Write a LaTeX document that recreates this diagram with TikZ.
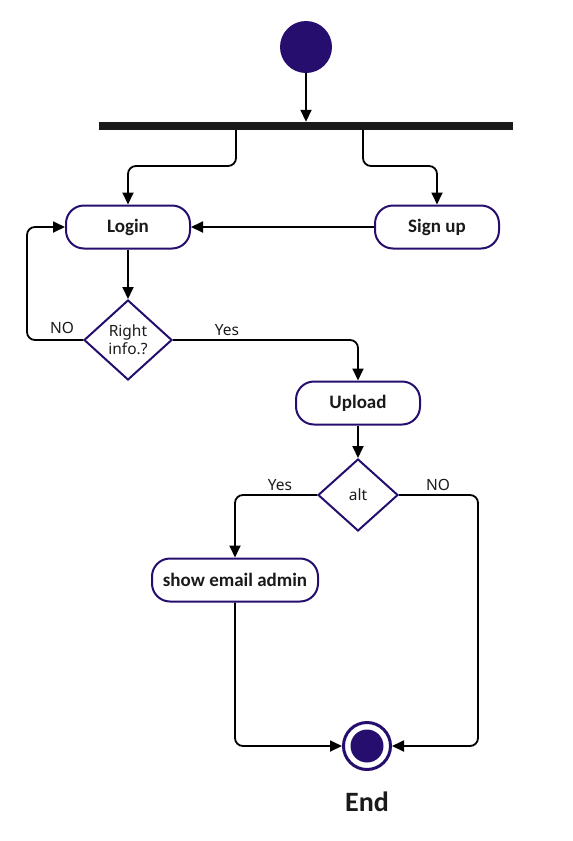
\documentclass[tikz,border=0pt]{standalone}
\usepackage{fontspec}
\setmainfont{Carlito}
\newfontfamily\lblfont{Noto Sans}
\usetikzlibrary{arrows.meta,shapes.geometric}
\definecolor{ink}{HTML}{260E6E}
\definecolor{txt}{HTML}{1A1A1A}
\begin{document}
\begin{tikzpicture}[x=1pt,y=-1pt,
  act/.style={draw=ink,line width=2pt,rounded corners=18pt,minimum width=124pt,minimum height=43pt,inner sep=0,text=txt,font=\bfseries\fontsize{19}{22}\selectfont},
  dec/.style={draw=ink,line width=2pt,shape=diamond,inner sep=0,align=center,text=txt,font=\lblfont\fontsize{15.5}{18}\selectfont},
  flow/.style={line width=1.8pt,-{Triangle[length=12pt,width=11pt]},rounded corners=8pt},
  lbl/.style={inner sep=0,text=txt,font=\lblfont\fontsize{15.5}{18}\selectfont}]
\useasboundingbox (0,0) rectangle (573,841);
\node[circle,fill=ink,minimum size=52pt,inner sep=0] (start) at (306,47) {};
\node[fill=txt,minimum width=414pt,minimum height=8pt,inner sep=0] (bar) at (306,126) {};
\node[act] (login) at (128,227) {Login};
\node[act] (signup) at (437,227) {Sign up};
\node[dec,minimum width=88pt,minimum height=80pt] (right) at (128,340) {Right\\info.?};
\node[act] (upload) at (358,403) {Upload};
\node[dec,minimum width=80pt,minimum height=72pt] (alt) at (358,495) {alt};
\node[act,minimum width=166pt] (show) at (235,580) {show email admin};
\node[circle,draw=ink,line width=3pt,minimum size=47pt,inner sep=0] (end) at (367,746) {};
\node[circle,fill=ink,minimum size=33pt,inner sep=0] (endin) at (end.center) {};
\node[text=txt,font=\bfseries\fontsize{28}{32}\selectfont] (endlbl) at (367,802) {End};
\coordinate (bl) at (236,166);
\coordinate (br) at (363,166);
\coordinate (lx) at (27,0);
\coordinate (rx) at (478,0);
\draw[flow] (start.south) -- (start.south |- bar.north);
\draw[flow] (bl |- bar.south) -- (bl) -| (login.north);
\draw[flow] (br |- bar.south) -- (br) -| (signup.north);
\draw[flow] (signup.west) -- (login.east);
\draw[flow] (login.south) -- (right.north);
\draw[flow] (right.west) -| (lx |- login.west) -- (login.west);
\draw[flow] (right.east) -| (upload.north);
\draw[flow] (upload.south) -- (alt.north);
\draw[flow] (alt.west) -| (show.north);
\draw[flow] (alt.east) -| (rx |- end.east) -- (end.east);
\draw[flow] (show.south) |- (end.west);
\node[lbl] (no1) at (62,328) {NO};
\node[lbl] (yes1) at (227,330) {Yes};
\node[lbl] (yes2) at (280,485) {Yes};
\node[lbl] (no2) at (438,485) {NO};
\end{tikzpicture}
\end{document}
